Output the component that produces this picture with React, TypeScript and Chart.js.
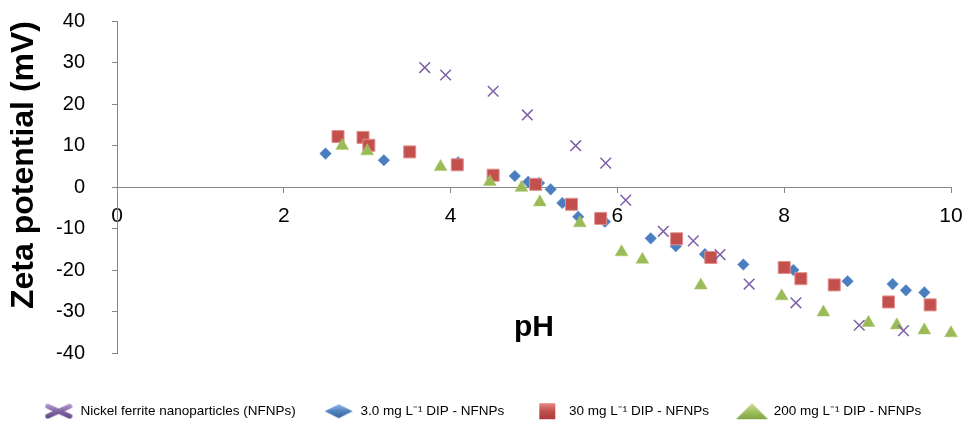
import React, { useEffect, useRef } from "react";
import { Chart, registerables } from "chart.js";
Chart.register(...registerables);

const seriesNames = [
  "Nickel ferrite nanoparticles (NFNPs)",
  "3.0 mg L\u207B\u00B9 DIP - NFNPs",
  "30 mg L\u207B\u00B9 DIP - NFNPs",
  "200 mg L\u207B\u00B9 DIP - NFNPs",
];

const nfnpPH = [3.69, 3.94, 4.51, 4.92, 5.5, 5.86, 6.1, 6.55, 6.91, 7.23, 7.58, 8.14, 8.9, 9.43];
const nfnpZeta = [28.8, 27.0, 23.1, 17.4, 10.0, 5.8, -3.1, -10.6, -12.9, -16.2, -23.3, -27.8, -33.2, -34.5];

const dip3PH = [2.5, 3.2, 4.09, 4.77, 4.93, 5.06, 5.2, 5.34, 5.53, 5.85, 6.4, 6.7, 7.05, 7.51, 8.11, 8.76, 9.3, 9.46, 9.68];
const dip3Zeta = [8.1, 6.5, 6.0, 2.7, 1.3, 1.0, -0.5, -3.8, -7.1, -8.3, -12.3, -14.2, -16.1, -18.6, -19.9, -22.6, -23.3, -24.8, -25.3];

const dip30PH = [2.65, 2.95, 3.02, 3.51, 4.08, 4.51, 5.02, 5.45, 5.8, 6.71, 7.12, 8.0, 8.2, 8.6, 9.25, 9.75];
const dip30Zeta = [12.2, 12.0, 10.1, 8.5, 5.4, 2.9, 0.7, -4.1, -7.5, -12.4, -16.9, -19.3, -22.0, -23.5, -27.6, -28.3];

const dip200PH = [2.7, 3.0, 3.88, 4.47, 4.85, 5.07, 5.55, 6.05, 6.3, 7.0, 7.97, 8.47, 9.01, 9.35, 9.68, 10.0];
const dip200Zeta = [10.0, 8.7, 4.9, 1.3, -0.1, -3.6, -8.6, -15.6, -17.4, -23.6, -26.2, -30.1, -32.6, -33.2, -34.4, -35.1];

const xTicks = [0, 2, 4, 6, 8, 10];
const yTicks = [-40, -30, -20, -10, 0, 10, 20, 30, 40];

const xTitle = "pH";
const yTitle = "Zeta potential (mV)";

const AXIS = "#868686";
const FONT = "'Liberation Sans', Arial, sans-serif";

function pts(xs: number[], ys: number[]) {
  return xs.map((x, i) => ({ x, y: ys[i] }));
}

function makeMarker(kind: number): HTMLCanvasElement {
  const c = document.createElement("canvas");
  const ctx = c.getContext("2d")!;
  if (kind === 0) {
    c.width = 28; c.height = 16;
    ctx.lineCap = "round";
    const g = ctx.createLinearGradient(0, 0, 0, 16);
    g.addColorStop(0, "#B9A3D3");
    g.addColorStop(0.5, "#8064A2");
    g.addColorStop(1, "#5E4580");
    ctx.strokeStyle = g;
    ctx.lineWidth = 5;
    ctx.beginPath();
    ctx.moveTo(3, 3); ctx.lineTo(25, 13);
    ctx.moveTo(3, 13); ctx.lineTo(25, 3);
    ctx.stroke();
  } else if (kind === 1) {
    c.width = 30; c.height = 16;
    const g = ctx.createLinearGradient(0, 0, 0, 16);
    g.addColorStop(0, "#9CC0EE");
    g.addColorStop(0.5, "#4F81BD");
    g.addColorStop(1, "#2F5F9C");
    ctx.fillStyle = g;
    ctx.beginPath();
    ctx.moveTo(1, 8); ctx.lineTo(15, 1); ctx.lineTo(29, 8); ctx.lineTo(15, 15);
    ctx.closePath();
    ctx.fill();
  } else if (kind === 2) {
    c.width = 18; c.height = 18;
    const g = ctx.createLinearGradient(0, 0, 0, 18);
    g.addColorStop(0, "#E8908D");
    g.addColorStop(0.5, "#C0504D");
    g.addColorStop(1, "#A83A37");
    ctx.fillStyle = g;
    ctx.fillRect(1, 1, 16, 16);
  } else {
    c.width = 34; c.height = 18;
    const g = ctx.createLinearGradient(0, 0, 0, 18);
    g.addColorStop(0, "#CDE39A");
    g.addColorStop(0.6, "#9BBB59");
    g.addColorStop(1, "#7F9E42");
    ctx.fillStyle = g;
    ctx.beginPath();
    ctx.moveTo(17, 1); ctx.lineTo(33, 17); ctx.lineTo(1, 17);
    ctx.closePath();
    ctx.fill();
  }
  return c;
}

export default function App() {
  const ref = useRef<HTMLCanvasElement | null>(null);

  useEffect(() => {
    if (!ref.current) return;
    const markers = [0, 1, 2, 3].map(makeMarker);
    const chart = new Chart(ref.current, {
      type: "scatter",
      data: {
        datasets: [
          {
            label: seriesNames[0],
            data: pts(nfnpPH, nfnpZeta),
            pointStyle: "crossRot",
            pointRadius: 7.5,
            borderColor: "#7F5FA8",
            backgroundColor: "#7F5FA8",
            pointBorderWidth: 1.5,
            order: 0,
            clip: false,
          },
          {
            label: seriesNames[1],
            data: pts(dip3PH, dip3Zeta),
            pointStyle: "rectRot",
            pointRadius: 5.8,
            backgroundColor: "#4A7EBF",
            borderColor: "#5A8CCB",
            pointBorderWidth: 0.5,
            order: 3,
            clip: false,
          },
          {
            label: seriesNames[2],
            data: pts(dip30PH, dip30Zeta),
            pointStyle: "rect",
            pointRadius: 8.5,
            backgroundColor: "#C4504D",
            borderColor: "#E0908E",
            pointBorderWidth: 1,
            order: 2,
            clip: false,
          },
          {
            label: seriesNames[3],
            data: pts(dip200PH, dip200Zeta),
            pointStyle: "triangle",
            pointRadius: 7.4,
            backgroundColor: "#9BBB59",
            borderColor: "#A5C466",
            pointBorderWidth: 0.5,
            order: 1,
            clip: false,
          },
        ],
      },
      options: {
        animation: false,
        responsive: true,
        maintainAspectRatio: false,
        events: [],
        layout: { padding: { left: 0, right: 0, top: 21, bottom: -5 } },
        scales: {
          x: {
            type: "linear",
            min: xTicks[0],
            max: xTicks[xTicks.length - 1],
            position: { y: 0 },
            afterBuildTicks: (s: any) => { s.ticks = xTicks.map((v) => ({ value: v })); },
            afterFit: (s: any) => { s.paddingLeft = 0; s.paddingRight = 14; },
            ticks: { color: "#000", font: { family: FONT, size: 21 }, padding: 11 },
            grid: { display: true, drawOnChartArea: false, drawTicks: true, tickLength: 5, color: AXIS },
            border: { display: true, color: AXIS, width: 1 },
            title: {
              display: true,
              text: xTitle,
              color: "#000",
              font: { family: FONT, size: 30, weight: "bold" },
              padding: { top: 70, bottom: 0 },
            },
          },
          gap: {
            type: "linear",
            axis: "x",
            position: "bottom",
            display: true,
            ticks: { display: false },
            grid: { display: false, drawTicks: false },
            border: { display: false },
            afterFit: (s: any) => { s.height = 23; s.paddingLeft = 0; s.paddingRight = 14; },
          },
          y: {
            type: "linear",
            min: yTicks[0],
            max: yTicks[yTicks.length - 1],
            afterBuildTicks: (s: any) => { s.ticks = yTicks.map((v) => ({ value: v })); },
            afterFit: (s: any) => { s.width = 117; s.paddingTop = 0; s.paddingBottom = 0; },
            ticks: { color: "#000", font: { family: FONT, size: 20 }, padding: 27 },
            grid: { display: true, drawOnChartArea: false, drawTicks: true, tickLength: 5, color: AXIS },
            border: { display: true, color: AXIS, width: 1 },
            title: {
              display: true,
              text: yTitle,
              color: "#000",
              align: "end",
              font: { family: FONT, size: 32, weight: "bold" },
              padding: { top: 5, bottom: 0 },
            },
          },
        },
        plugins: {
          tooltip: { enabled: false },
          legend: {
            position: "bottom",
            labels: {
              usePointStyle: true,
              pointStyleWidth: 30,
              padding: 28,
              color: "#000",
              font: { family: FONT, size: 13.5 },
              generateLabels: (ch: any) => {
                const items = (Chart.defaults.plugins.legend.labels as any).generateLabels(ch);
                return items.map((it: any) => ({ ...it, pointStyle: markers[it.datasetIndex] }));
              },
              sort: (a: any, b: any) => a.datasetIndex - b.datasetIndex,
            },
          },
        },
      } as any,
    });
    return () => chart.destroy();
  }, []);

  return (
    <div style={{ position: "fixed", left: 0, top: 0, width: 965, height: 423, background: "#fff" }}>
      <canvas ref={ref} />
    </div>
  );
}
